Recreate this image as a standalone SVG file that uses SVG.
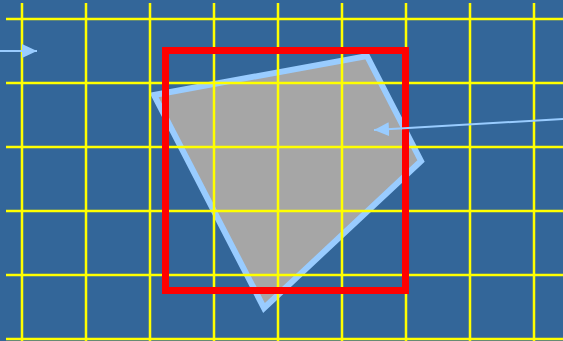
<svg xmlns="http://www.w3.org/2000/svg" width="563" height="341" viewBox="0 0 563 341">
<style>
.grid line{stroke:#ffff00;stroke-width:2.5}
.conn line{stroke:#99ccff;stroke-width:2}
</style>
<defs>
<marker id="ah" markerUnits="userSpaceOnUse" markerWidth="16" markerHeight="16" refX="15" refY="7" orient="auto">
<path d="M0,0 L15,7 L0,14 Z" fill="#99ccff"/>
</marker>
</defs>
<rect width="563" height="341" fill="#336699"/>
<g id="shape">
<polygon points="154,95 367,56 421,161 264,308" fill="#a6a6a6" stroke="#99ccff" stroke-width="6" stroke-linejoin="miter"/>
</g>
<g class="grid" id="grid">
<line x1="22" y1="3" x2="22" y2="341"/>
<line x1="86" y1="3" x2="86" y2="341"/>
<line x1="150" y1="3" x2="150" y2="341"/>
<line x1="214" y1="3" x2="214" y2="341"/>
<line x1="278" y1="3" x2="278" y2="341"/>
<line x1="342" y1="3" x2="342" y2="341"/>
<line x1="406" y1="3" x2="406" y2="341"/>
<line x1="470" y1="3" x2="470" y2="341"/>
<line x1="534" y1="3" x2="534" y2="341"/>
<line x1="6" y1="19" x2="563" y2="19"/>
<line x1="6" y1="83" x2="563" y2="83"/>
<line x1="6" y1="147" x2="563" y2="147"/>
<line x1="6" y1="211" x2="563" y2="211"/>
<line x1="6" y1="275" x2="563" y2="275"/>
<line x1="6" y1="339" x2="563" y2="339"/>
</g>
<g id="frame">
<rect x="165.5" y="50.5" width="240" height="240" fill="none" stroke="#ff0000" stroke-width="7"/>
</g>
<g class="conn" id="connectors">
<line x1="0" y1="51" x2="37" y2="51" marker-end="url(#ah)"/>
<line x1="563" y1="119" x2="374" y2="130" marker-end="url(#ah)"/>
</g>
</svg>
